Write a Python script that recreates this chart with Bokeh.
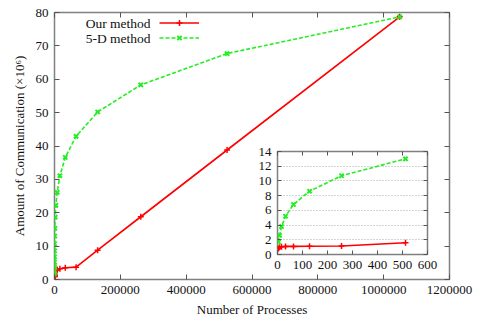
from bokeh.plotting import figure
from bokeh.models import (LinearAxis, FixedTicker, Label, Legend, LegendItem, GridBox)
from bokeh.embed import file_html
from bokeh.resources import INLINE

# ---- data ----
procs = [4, 8, 16, 32, 64, 128, 256, 512, 1024, 2048, 4096, 8192, 16384,
         32768, 65536, 131072, 262144, 524288, 1048576]
ours = [0.8, 1.0, 1.05, 1.1, 1.1, 1.12, 1.15, 1.6, 2.1, 2.5, 2.8, 3.0, 3.2,
        3.5, 3.7, 8.8, 18.8, 38.8, 78.7]
five_d = [1.7, 2.6, 3.8, 5.2, 6.8, 8.6, 10.7, 13.0, 15.3, 18.7, 22.2, 26.1, 31.1,
          36.6, 42.9, 50.2, 58.3, 67.7, 78.7]
series_names = ["Our method", "5-D method"]
x_title = "Number of Processes"
y_title = "Amount of Communication (×10⁶)"
x_ticks = [0, 200000, 400000, 600000, 800000, 1000000, 1200000]
y_ticks = [0, 10, 20, 30, 40, 50, 60, 70, 80]
inset_x_ticks = [0, 100, 200, 300, 400, 500, 600]
inset_y_ticks = [0, 2, 4, 6, 8, 10, 12, 14]
inset_limit = 600

RED = "#ff0000"
GREEN = "#22ee22"
FRAME = "#808080"
FONT = "Liberation Serif"
FS = "13px"
LFS = "13px"


def style_axes(fig, xt, yt, tick_len):
    for ax in fig.xaxis + fig.yaxis:
        ax.axis_line_color = None
        ax.major_tick_in = tick_len
        ax.major_tick_out = 0
        ax.major_tick_line_color = "#555555"
        ax.major_tick_line_width = 1
        ax.minor_tick_line_color = None
        ax.major_label_text_font = FONT
        ax.major_label_text_font_size = FS
        ax.major_label_text_color = "#111111"
        ax.major_label_standoff = 6
        ax.axis_label_text_font = FONT
        ax.axis_label_text_font_size = LFS
        ax.axis_label_text_font_style = "normal"
        ax.axis_label_text_color = "#111111"
    fig.xaxis[0].ticker = FixedTicker(ticks=xt)
    fig.yaxis[0].ticker = FixedTicker(ticks=yt)
    for ticks, side in ((xt, "above"), (yt, "right")):
        ax = LinearAxis(ticker=FixedTicker(ticks=ticks), major_label_text_color=None,
                        major_label_text_font_size="1px", major_label_standoff=0,
                        axis_line_color=None, major_tick_in=tick_len, major_tick_out=0,
                        major_tick_line_color="#555555", minor_tick_line_color=None)
        fig.add_layout(ax, side)
    fig.outline_line_color = FRAME
    fig.outline_line_width = 1.5


# ---- main figure ----
p = figure(width=465, height=326, x_range=(0, 1200000), y_range=(0, 80),
           output_backend="svg", toolbar_location=None,
           min_border_left=45, min_border_right=24, min_border_top=12,
           min_border_bottom=47)
p.xgrid.visible = False
p.ygrid.visible = False
p.xaxis.axis_label = x_title
p.yaxis.axis_label = y_title
p.xaxis.formatter.use_scientific = False
style_axes(p, x_ticks, y_ticks, 5)
p.yaxis[0].axis_label_standoff = 6
p.xaxis[0].major_label_standoff = 5
p.xaxis[0].axis_label_standoff = 10

r1l = p.line(procs, ours, line_color=RED, line_width=1.6)
r1m = p.scatter(procs, ours, marker="cross", size=6, line_color=RED, line_width=1.5)
r2l = p.line(procs, five_d, line_color=GREEN, line_width=1.6, line_dash="4 2")
r2m = p.scatter(procs, five_d, marker="x", size=6, line_color=GREEN, line_width=2)

legend = Legend(items=[LegendItem(label=series_names[0], renderers=[r1l, r1m]),
                       LegendItem(label=series_names[1], renderers=[r2l, r2m])],
                location=(105, 234), padding=0, margin=0, spacing=0,
                glyph_width=40, glyph_height=15, label_width=0, label_height=15,
                label_standoff=0, label_text_font_size="1px", label_text_color=None,
                border_line_alpha=0, background_fill_alpha=0)
p.add_layout(legend, "center")
for i, name in enumerate(series_names):
    p.add_layout(Label(x=96, y=256.5 - 15 * i, x_units="screen", y_units="screen",
                       text=name, text_align="right", text_baseline="middle",
                       text_font=FONT, text_font_size="13.5px", text_color="#111111"))

# ---- inset figure ----
ix = [v for v in procs if v <= inset_limit]
n = len(ix)
q = figure(width=190, height=135, x_range=(0, 600), y_range=(0, 14),
           output_backend="svg", toolbar_location=None,
           min_border_left=28, min_border_right=12, min_border_top=10,
           min_border_bottom=22)
q.border_fill_alpha = 0
q.xgrid.visible = False
q.ygrid.grid_line_color = "#aaaaaa"
q.ygrid.grid_line_dash = "1 2"
q.xaxis.formatter.use_scientific = False
style_axes(q, inset_x_ticks, inset_y_ticks, 4)
q.xaxis[0].major_label_standoff = 7
q.ygrid.ticker = FixedTicker(ticks=inset_y_ticks)
q.line(ix, ours[:n], line_color=RED, line_width=1.6)
q.scatter(ix, ours[:n], marker="cross", size=6, line_color=RED, line_width=1.5)
q.line(ix, five_d[:n], line_color=GREEN, line_width=1.6, line_dash="4 2")
q.scatter(ix, five_d[:n], marker="x", size=6, line_color=GREEN, line_width=2)

grid = GridBox(children=[(p, 0, 1, 3, 3), (q, 1, 2)],
               rows=["141px", "135px", "50px"],
               cols=["8px", "241px", "190px", "34px"])

open("out.html", "w").write(file_html(grid, INLINE))
